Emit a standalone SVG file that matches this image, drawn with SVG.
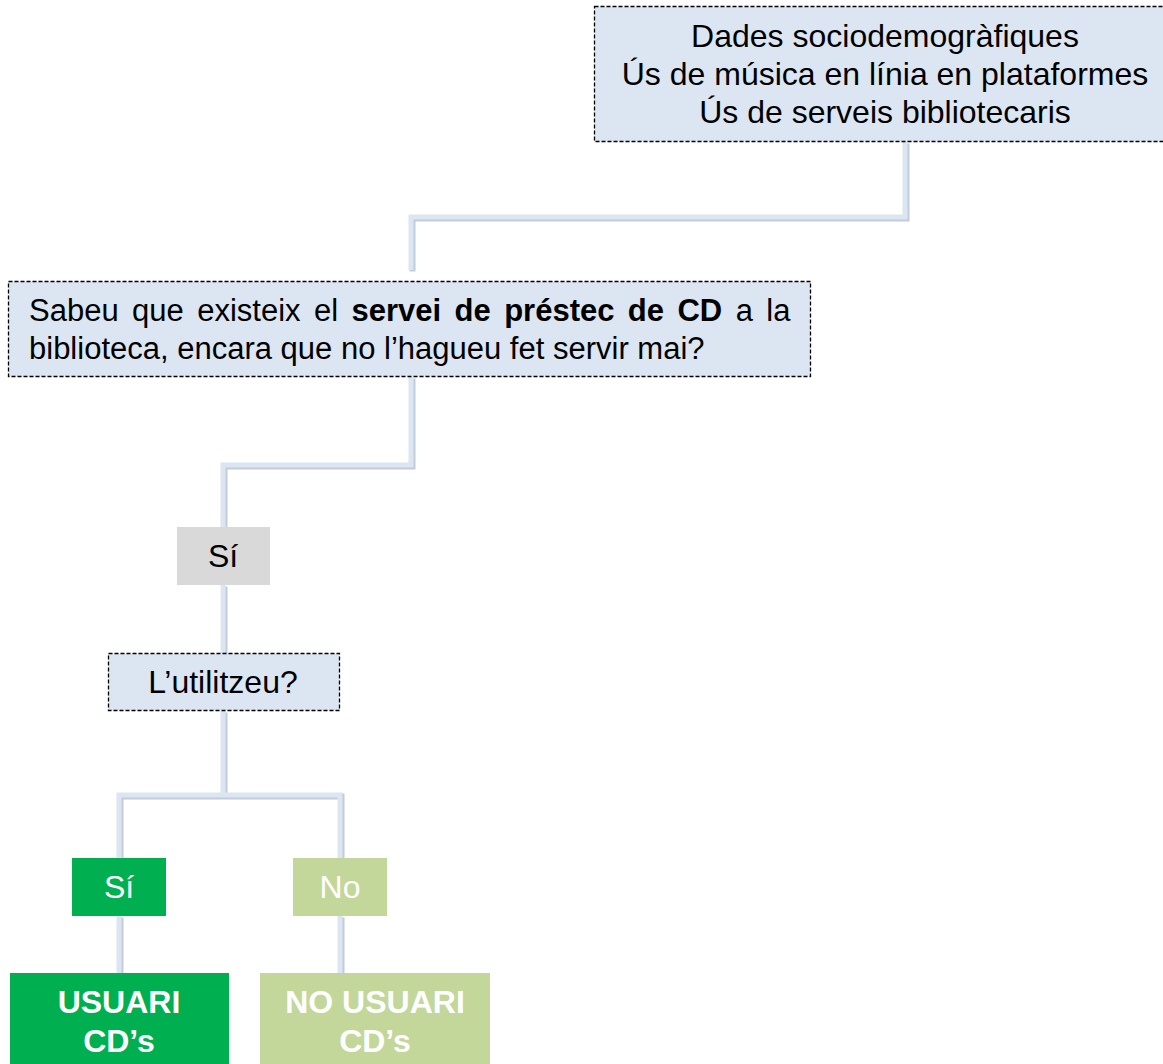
<svg xmlns="http://www.w3.org/2000/svg" width="1163" height="1064" viewBox="0 0 1163 1064">
<defs>
<style>
.q{fill:#dce6f2;stroke:#000;stroke-width:1.3;stroke-dasharray:4 2}
.t{font-family:"Liberation Sans",Arial,sans-serif;fill:#000}
.w{font-family:"Liberation Sans",Arial,sans-serif;fill:#fff}
.sh{fill:none;stroke:#c3ccd8;stroke-width:6;stroke-linejoin:miter}
.ln{fill:none;stroke:#dce6f2;stroke-width:5;stroke-linejoin:miter}
</style>
</defs>
<rect width="1163" height="1064" fill="#fff"/>
<g id="connectors">
<g transform="translate(1.5,1.5)">
<path class="sh" d="M905 142 V217 H411 V270"/>
<path class="sh" d="M411 377 V465 H223 V527"/>
<path class="sh" d="M223 585 V653"/>
<path class="sh" d="M223 711 V795 M119 858 V795 H340 V858"/>
<path class="sh" d="M119 916 V973 M340 916 V973"/>
</g>
<path class="ln" d="M905 142 V217 H411 V270"/>
<path class="ln" d="M411 377 V465 H223 V527"/>
<path class="ln" d="M223 585 V653"/>
<path class="ln" d="M223 711 V795 M119 858 V795 H340 V858"/>
<path class="ln" d="M119 916 V973 M340 916 V973"/>
</g>
<g id="n-dades">
<rect class="q" x="594.5" y="6.5" width="580" height="135"/>
<text class="t" font-size="32" text-anchor="middle" x="885"><tspan x="885" y="47">Dades sociodemogràfiques</tspan><tspan x="885" y="85">Ús de música en línia en plataformes</tspan><tspan x="885" y="123">Ús de serveis bibliotecaris</tspan></text>
</g>
<g id="n-sabeu">
<rect class="q" x="8.5" y="281.5" width="802" height="95"/>
<text class="t" font-size="31" x="29" y="321" word-spacing="4.8">Sabeu que existeix el <tspan font-weight="bold">servei de préstec de CD</tspan> a la</text>
<text class="t" font-size="31" x="29" y="359">biblioteca, encara que no l’hagueu fet servir mai?</text>
</g>
<g id="n-si1">
<rect x="177" y="527" width="93" height="58" fill="#d9d9d9"/>
<text class="t" font-size="32" text-anchor="middle" x="223" y="567">Sí</text>
</g>
<g id="n-util">
<rect class="q" x="108.5" y="653.5" width="231" height="57"/>
<text class="t" font-size="32" text-anchor="middle" x="223" y="693">L’utilitzeu?</text>
</g>
<g id="n-si2">
<rect x="72" y="858" width="94" height="58" fill="#00b050"/>
<text class="w" font-size="32" text-anchor="middle" x="119" y="898">Sí</text>
</g>
<g id="n-no">
<rect x="293" y="858" width="94" height="58" fill="#c4d79b"/>
<text class="w" font-size="32" text-anchor="middle" x="340" y="898">No</text>
</g>
<g id="n-usuari">
<rect x="10" y="973" width="219" height="91" fill="#00b050"/>
<text class="w" font-size="32" font-weight="bold" text-anchor="middle"><tspan x="119" y="1013">USUARI</tspan><tspan x="119" y="1052">CD’s</tspan></text>
</g>
<g id="n-nousuari">
<rect x="260" y="973" width="230" height="91" fill="#c4d79b"/>
<text class="w" font-size="32" font-weight="bold" text-anchor="middle"><tspan x="375" y="1013">NO USUARI</tspan><tspan x="375" y="1052">CD’s</tspan></text>
</g>
</svg>
